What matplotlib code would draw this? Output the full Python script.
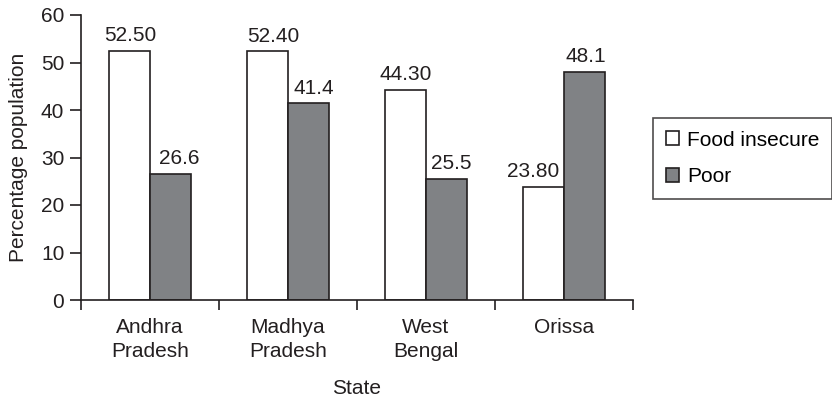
import numpy as np
import matplotlib.pyplot as plt
from matplotlib.ticker import FixedLocator

plt.rcParams['font.family'] = ['Liberation Sans', 'DejaVu Sans']

states = ['Andhra\nPradesh', 'Madhya\nPradesh', 'West\nBengal', 'Orissa']
food_insecure = [52.50, 52.40, 44.30, 23.80]
poor = [26.6, 41.4, 25.5, 48.1]

ink = '#231f20'
grey = '#808285'
fs = 15

# small sideways nudges (points) for the value labels
food_dx = [1, 4, 0, -7]
poor_dx = [6, 4, 3, 1]

fig = plt.figure(figsize=(8.32, 4.0), dpi=100)
ax = fig.add_axes([81 / 832, 0.25, (633 - 81) / 832, 0.7125])

x = np.arange(len(states))
w = 0.3
b1 = ax.bar(x - w / 2, food_insecure, w, color='white', edgecolor=ink,
            linewidth=1.2, label='Food insecure')
b2 = ax.bar(x + w / 2, poor, w, color=grey, edgecolor=ink,
            linewidth=1.2, label='Poor')

for rect, v, dx in zip(b1, food_insecure, food_dx):
    ax.annotate('%.2f' % v, (rect.get_x() + rect.get_width() / 2, v),
                xytext=(dx, 4), textcoords='offset points',
                ha='center', va='bottom', fontsize=fs, color=ink)
for rect, v, dx in zip(b2, poor, poor_dx):
    ax.annotate('%.1f' % v, (rect.get_x() + rect.get_width() / 2, v),
                xytext=(dx, 4), textcoords='offset points',
                ha='center', va='bottom', fontsize=fs, color=ink)

ax.set_xlim(-0.5, len(states) - 0.5)
ax.set_ylim(0, 60)
ax.set_yticks(range(0, 61, 10))

ax.set_xticks(x)
ax.set_xticklabels(states, fontsize=fs, color=ink, linespacing=1.3)
ax.xaxis.set_minor_locator(FixedLocator(np.arange(-0.5, len(states), 1.0)))
ax.tick_params(axis='x', which='major', length=0, pad=13)
ax.tick_params(axis='x', which='minor', length=7, width=1.2, color=ink,
               direction='out')
ax.tick_params(axis='y', length=8, width=1.2, color=ink, direction='out',
               labelsize=fs, labelcolor=ink, pad=4)

for s in ['top', 'right']:
    ax.spines[s].set_visible(False)
for s in ['left', 'bottom']:
    ax.spines[s].set_color(ink)
    ax.spines[s].set_linewidth(1.2)

ax.set_xlabel('State', fontsize=fs, color=ink, labelpad=13)
ax.set_ylabel('Percentage population', fontsize=fs, color=ink, labelpad=9)

leg = fig.legend(handles=[b1, b2], loc='upper left',
                 bbox_to_anchor=(653 / 832, 1 - 118 / 400),
                 fontsize=fs, frameon=True, fancybox=False,
                 handlelength=0.65, handleheight=0.65, handletextpad=0.4,
                 labelspacing=0.85, borderpad=0.6, borderaxespad=0)
leg.get_frame().set_edgecolor(ink)
leg.get_frame().set_linewidth(1.2)

fig.savefig('out.png', dpi=100)
